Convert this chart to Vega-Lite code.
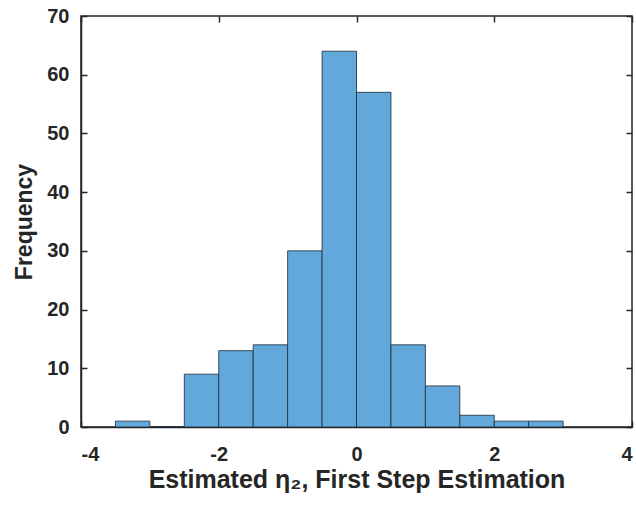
{
  "$schema": "https://vega.github.io/schema/vega-lite/v6.json",
  "width": 551,
  "height": 411,
  "autosize": {"type": "none"},
  "padding": {"left": 81, "top": 16, "right": 4, "bottom": 79},
  "background": "white",
  "config": {
    "view": {"stroke": "#262626", "strokeWidth": 1.5},
    "axis": {
      "labelFont": "Liberation Sans",
      "labelFontWeight": "bold",
      "labelFontSize": 20,
      "labelColor": "#262626",
      "titleFont": "Liberation Sans",
      "titleFontWeight": "bold",
      "titleColor": "#262626",
      "domainColor": "#262626",
      "domainWidth": 1.5,
      "tickColor": "#262626",
      "tickWidth": 1.5,
      "tickSize": -6,
      "grid": false,
      "labelExpr": "toString(datum.value)"
    }
  },
  "data": {
    "values": [
      {"bin_start": -3.5, "bin_end": -3.0, "count": 1},
      {"bin_start": -3.0, "bin_end": -2.5, "count": 0},
      {"bin_start": -2.5, "bin_end": -2.0, "count": 9},
      {"bin_start": -2.0, "bin_end": -1.5, "count": 13},
      {"bin_start": -1.5, "bin_end": -1.0, "count": 14},
      {"bin_start": -1.0, "bin_end": -0.5, "count": 30},
      {"bin_start": -0.5, "bin_end": 0.0, "count": 64},
      {"bin_start": 0.0, "bin_end": 0.5, "count": 57},
      {"bin_start": 0.5, "bin_end": 1.0, "count": 14},
      {"bin_start": 1.0, "bin_end": 1.5, "count": 7},
      {"bin_start": 1.5, "bin_end": 2.0, "count": 2},
      {"bin_start": 2.0, "bin_end": 2.5, "count": 1},
      {"bin_start": 2.5, "bin_end": 3.0, "count": 1}
    ]
  },
  "layer": [
    {
      "mark": {"type": "bar", "fill": "#63A8DA", "stroke": "#1a2a3a", "strokeWidth": 0.8},
      "encoding": {
        "x": {
          "field": "bin_start",
          "type": "quantitative",
          "scale": {"domain": [-4, 4], "nice": false, "zero": false},
          "axis": {"orient": "bottom", "values": [-4, -2, 0, 2, 4], "title": "Estimated η₂, First Step Estimation", "titleFontSize": 25, "labelPadding": 23, "titlePadding": 3}
        },
        "x2": {"field": "bin_end"},
        "y": {
          "field": "count",
          "type": "quantitative",
          "scale": {"domain": [0, 70], "nice": false},
          "axis": {"orient": "left", "values": [0, 10, 20, 30, 40, 50, 60, 70], "title": "Frequency", "titleFontSize": 23, "labelPadding": 18, "titlePadding": 10}
        },
        "y2": {"datum": 0}
      }
    },
    {
      "mark": {"type": "bar", "opacity": 0},
      "encoding": {
        "x": {
          "field": "bin_start",
          "type": "quantitative",
          "axis": {"orient": "top", "values": [-4, -2, 0, 2, 4], "title": null, "labels": false, "domain": false}
        },
        "x2": {"field": "bin_end"},
        "y": {
          "field": "count",
          "type": "quantitative",
          "axis": {"orient": "right", "values": [0, 10, 20, 30, 40, 50, 60, 70], "title": null, "labels": false, "domain": false}
        },
        "y2": {"datum": 0}
      }
    }
  ],
  "resolve": {"axis": {"x": "independent", "y": "independent"}}
}
